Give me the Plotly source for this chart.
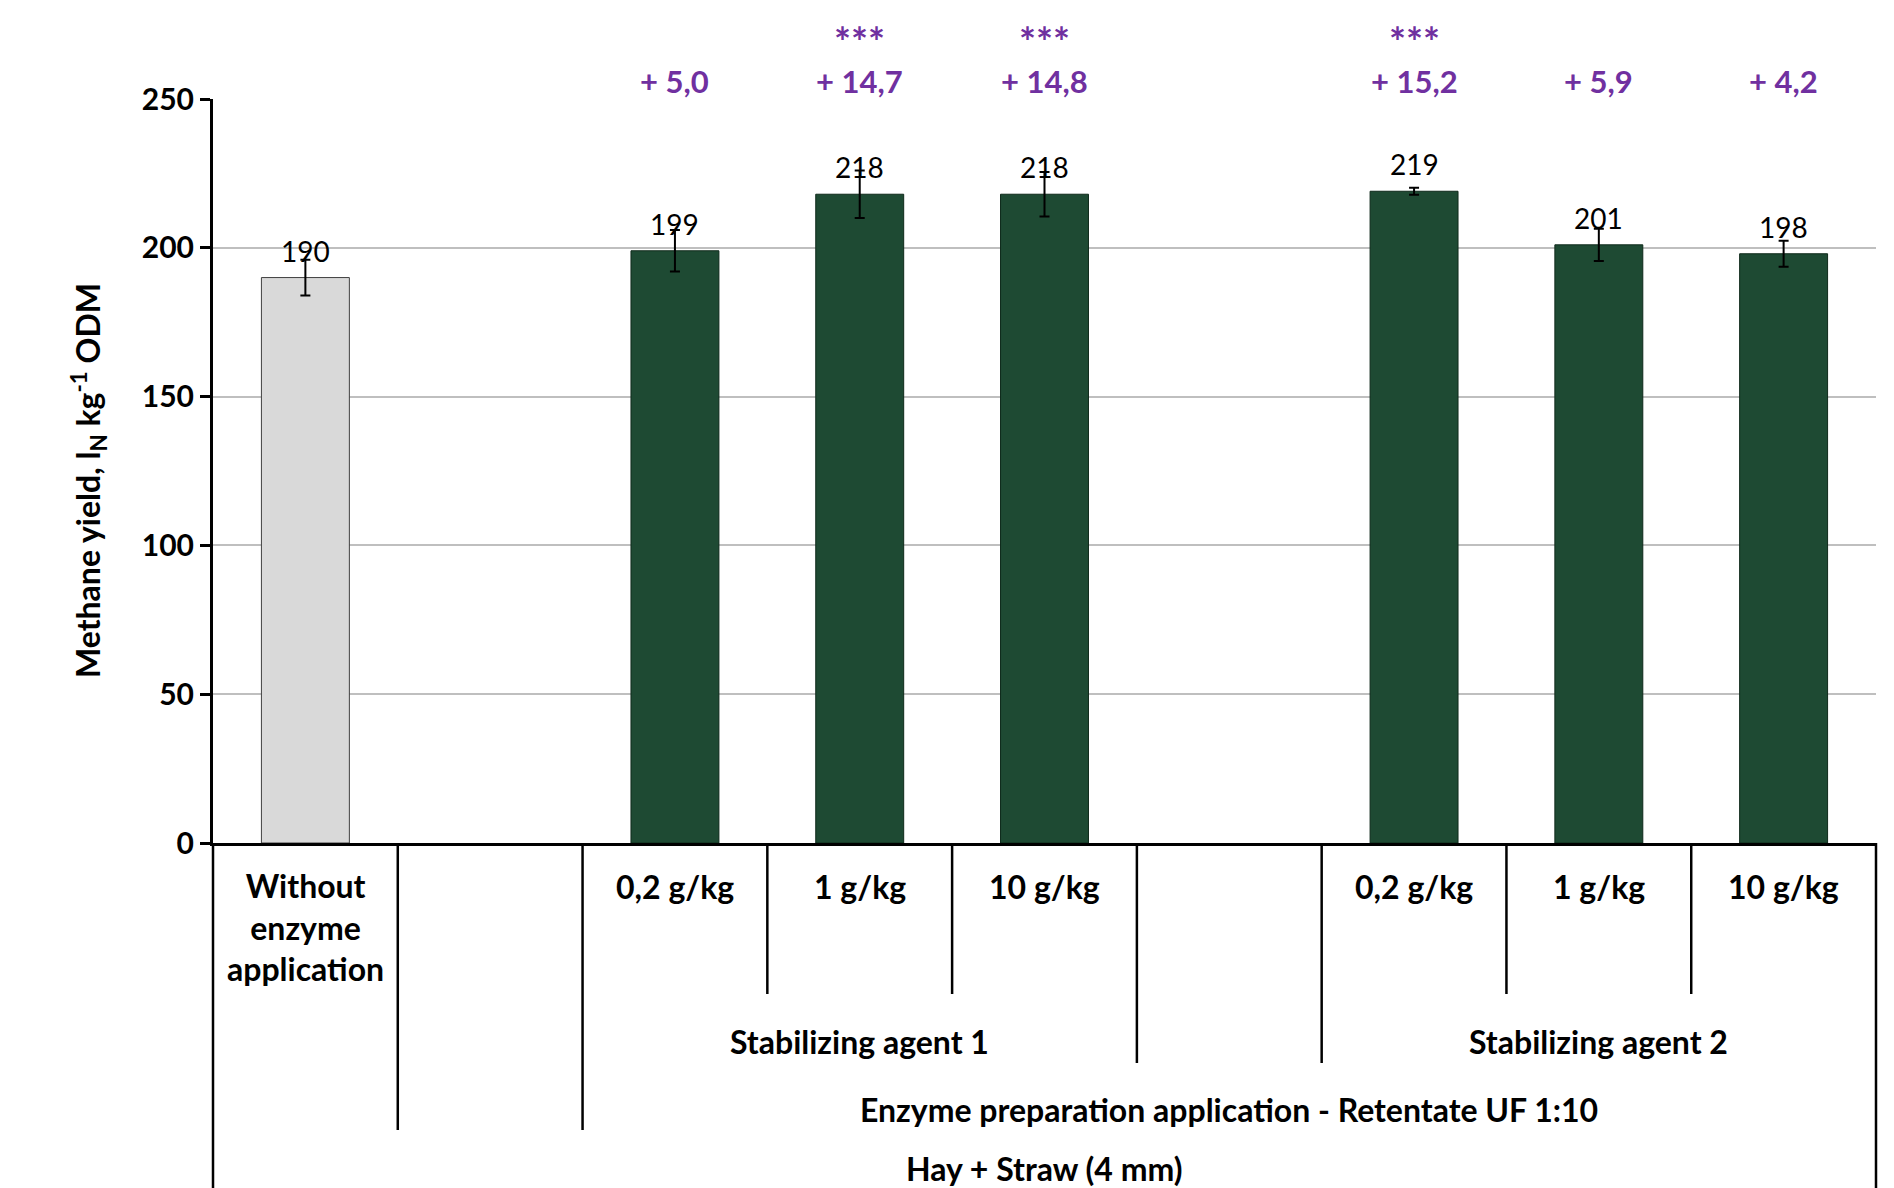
import plotly.graph_objects as go

# ---------------- data ----------------
slots = ["ctrl", "gap1", "sa1_02", "sa1_1", "sa1_10", "gap2", "sa2_02", "sa2_1", "sa2_10"]

control_slot = ["ctrl"]
control_value = [190]
control_err = [6]

treat_slots = ["sa1_02", "sa1_1", "sa1_10", "sa2_02", "sa2_1", "sa2_10"]
treat_values = [199, 218, 218, 219, 201, 198]
treat_err = [7, 8, 7.5, 1.2, 5.4, 4.4]

increase_labels = ["+ 5,0", "+ 14,7", "+ 14,8", "+ 15,2", "+ 5,9", "+ 4,2"]
significance = ["", "***", "***", "***", "", ""]

dose_labels = ["0,2 g/kg", "1 g/kg", "10 g/kg", "0,2 g/kg", "1 g/kg", "10 g/kg"]
control_label = "Without<br>enzyme<br>application"
agent_labels = ["Stabilizing agent 1", "Stabilizing agent 2"]
agent_centers = ["sa1_1", "sa2_1"]
enzyme_label = "Enzyme preparation application - Retentate UF 1:10"
substrate_label = "Hay + Straw (4 mm)"

y_ticks = [0, 50, 100, 150, 200, 250]

# ---------------- layout geometry ----------------
W, H = 1894, 1188
L, R, T, B = 213, 18, 99, 345
plot_h = H - T - B
y0_px = H - B


def py(pix):
    """pixel row -> paper y"""
    return (y0_px - pix) / plot_h


FONT = "Lato"
GREEN = "#1E4A33"
PURPLE = "#7030A0"

fig = go.Figure()

fig.add_trace(go.Bar(
    x=control_slot, y=control_value,
    marker=dict(color="#D9D9D9", line=dict(color="#404040", width=1)),
    width=0.476,
    error_y=dict(type="data", array=control_err, visible=True,
                 color="black", thickness=2, width=5),
    showlegend=False, hoverinfo="skip",
))
fig.add_trace(go.Bar(
    x=treat_slots, y=treat_values,
    marker=dict(color=GREEN, line=dict(color="#0F2A1B", width=1)),
    width=0.476,
    error_y=dict(type="data", array=treat_err, visible=True,
                 color="black", thickness=2, width=5),
    showlegend=False, hoverinfo="skip",
))

ann = []
# data labels
for xs, vs in ((control_slot, control_value), (treat_slots, treat_values)):
    for x, v in zip(xs, vs):
        ann.append(dict(x=x, y=v, xref="x", yref="y", text=str(v),
                        showarrow=False, yshift=27, yanchor="middle",
                        font=dict(family=FONT, size=28, color="black")))

# increases and significance
for x, inc, sig in zip(treat_slots, increase_labels, significance):
    ann.append(dict(x=x, y=py(81), xref="x", yref="paper", text=inc,
                    showarrow=False, yanchor="middle",
                    font=dict(family=FONT, size=31, color=PURPLE, weight="bold")))
    if sig:
        ann.append(dict(x=x, y=py(42), xref="x", yref="paper", text=sig,
                        showarrow=False, yanchor="middle",
                        font=dict(family=FONT, size=40, color=PURPLE, weight="bold")))

lab_font = dict(family=FONT, size=32, color="black", weight="bold")

# dose labels
for x, t in zip(treat_slots, dose_labels):
    ann.append(dict(x=x, y=py(886), xref="x", yref="paper", text=t,
                    showarrow=False, yanchor="middle", font=lab_font))
# control label
ann.append(dict(x="ctrl", y=py(864), xref="x", yref="paper", text=control_label,
                showarrow=False, yanchor="top", font=lab_font))
# agent labels
for x, t in zip(agent_centers, agent_labels):
    ann.append(dict(x=x, y=py(1041), xref="x", yref="paper", text=t,
                    showarrow=False, yanchor="middle", font=lab_font))
ann.append(dict(x="gap2", y=py(1109), xref="x", yref="paper", text=enzyme_label,
                showarrow=False, yanchor="middle", font=lab_font))
ann.append(dict(x="sa1_10", y=py(1168), xref="x", yref="paper", text=substrate_label,
                showarrow=False, yanchor="middle", font=lab_font))

# y-axis title
ann.append(dict(x=(88 - L) / (W - L - R), y=py(481), xref="paper", yref="paper",
                text="Methane yield, l<sub>N</sub> kg<sup>-1</sup> ODM",
                textangle=-90, showarrow=False, xanchor="center", yanchor="middle",
                font=lab_font))

# category divider lines below the axis
n = len(slots)
depth_px = {0: 1200, 1: 1130, 2: 1130, 3: 994, 4: 994, 5: 1063, 6: 1063,
            7: 994, 8: 994, 9: 1200}
shapes = []
for k in range(n + 1):
    shapes.append(dict(type="line", xref="paper", yref="paper",
                       x0=k / n, x1=k / n, y0=0, y1=py(depth_px[k]),
                       line=dict(color="black", width=2.5)))

fig.update_layout(
    width=W, height=H, autosize=False,
    margin=dict(l=L, r=R, t=T, b=B, pad=0),
    paper_bgcolor="white", plot_bgcolor="white",
    bargap=0.52,
    annotations=ann, shapes=shapes,
    xaxis=dict(type="category", categoryorder="array", categoryarray=slots,
               range=[-0.5, n - 0.5], showticklabels=False, ticks="",
               showgrid=False, showline=True, linecolor="black", linewidth=3,
               zeroline=False, fixedrange=True),
    yaxis=dict(range=[0, 250], tickvals=y_ticks, ticks="outside", ticklen=10,
               tickwidth=3, tickcolor="black", showline=True, linecolor="black",
               linewidth=3, showgrid=True, gridcolor="#BFBFBF", gridwidth=2,
               zeroline=False,
               tickfont=dict(family=FONT, size=30, color="black", weight="bold"),
               fixedrange=True),
)

fig.write_html("out.html")
